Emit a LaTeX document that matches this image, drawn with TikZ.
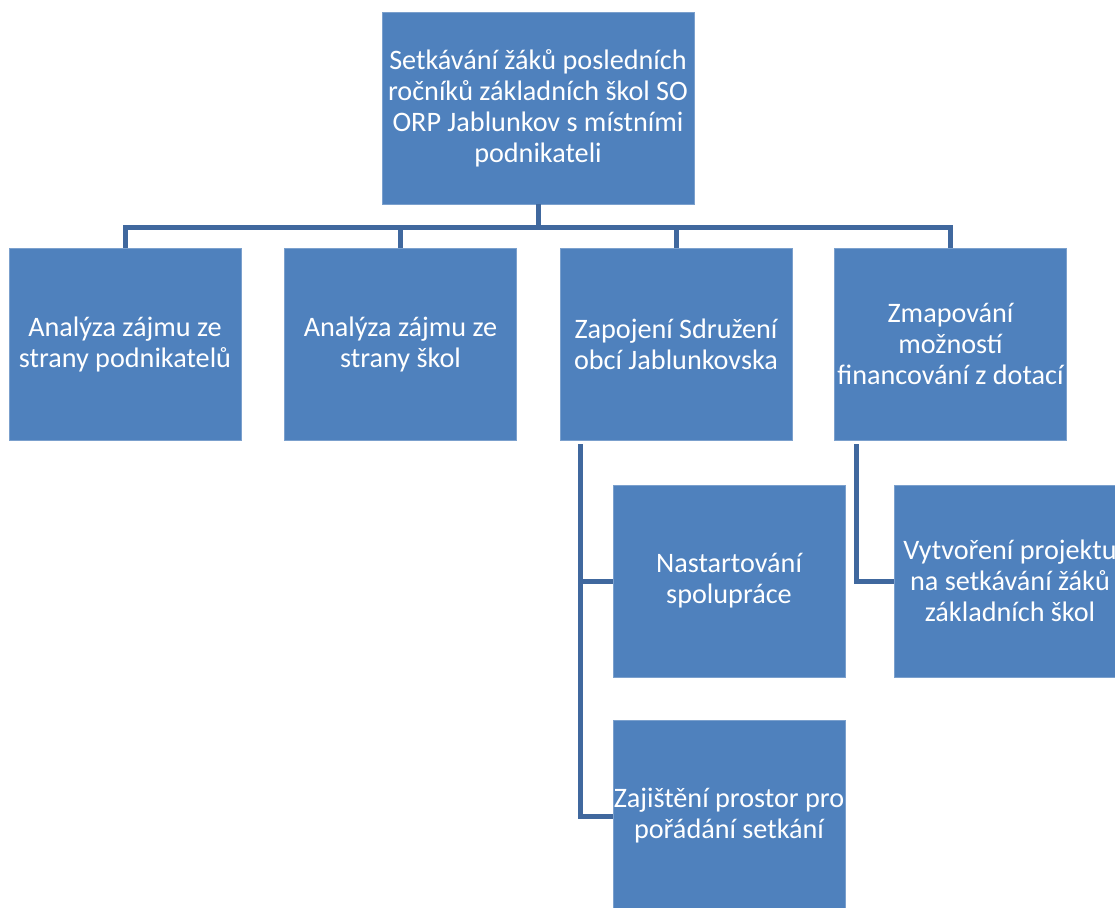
\documentclass[tikz,border=0pt]{standalone}
\usepackage{fontspec}
\setmainfont{Carlito}
\usepackage{tikz}

\definecolor{boxblue}{RGB}{79,129,189}
\definecolor{linkblue}{RGB}{64,104,158}

\tikzset{
  krok/.style={rectangle, fill=boxblue, draw=boxblue!75!white, line width=0.8pt,
    minimum width=232pt, minimum height=192pt, inner sep=0pt,
    text=white, align=center, font=\fontsize{28.2}{31}\selectfont},
  spoj/.style={draw=linkblue, line width=5pt}
}

\begin{document}
\begin{tikzpicture}[x=1pt,y=-1pt]
        \useasboundingbox (0,0) rectangle (1115,907);
        \clip (0,0) rectangle (1115,907);

        %hlavni cil
        \node[krok, minimum width=312pt] (cil) at (538,108)
          {Setkávání žáků posledních\\ročníků základních škol SO\\ORP Jablunkov s místními\\podnikateli};

        %dilci kroky
        \node[krok] (podnik) at (125,344) {Analýza zájmu ze\\strany podnikatelů};
        \node[krok] (skoly) at (400.5,344) {Analýza zájmu ze\\strany škol};
        \node[krok] (sdruz) at (676,344) {Zapojení Sdružení\\obcí Jablunkovska};
        \node[krok] (dotace) at (950.5,344) {Zmapování\\možností\\financování z dotací};

        %podkroky
        \node[krok] (spoluprace) at (729,581) {Nastartování\\spolupráce};
        \node[krok] (prostor) at (729,816) {Zajištění prostor pro\\pořádání setkání};
        \node[krok] (projekt) at (1010,581) {Vytvoření projektu\\na setkávání žáků\\základních škol};

        %spojnice mezi urovnemi
        \coordinate (sber) at (538,227);
        \draw[spoj] (cil.south) -- (sber);
        \draw[spoj] (podnik.north) -- (podnik.north |- sber) -- (dotace.north |- sber) -- (dotace.north);
        \draw[spoj] (skoly.north) -- (skoly.north |- sber);
        \draw[spoj] (sdruz.north) -- (sdruz.north |- sber);

        \coordinate (sdruzL) at (580,444);
        \coordinate (dotaceL) at (856,444);
        \draw[spoj] (sdruzL) |- (prostor.west);
        \draw[spoj] (sdruzL |- spoluprace.west) -- (spoluprace.west);
        \draw[spoj] (dotaceL) |- (projekt.west);
\end{tikzpicture}
\end{document}
